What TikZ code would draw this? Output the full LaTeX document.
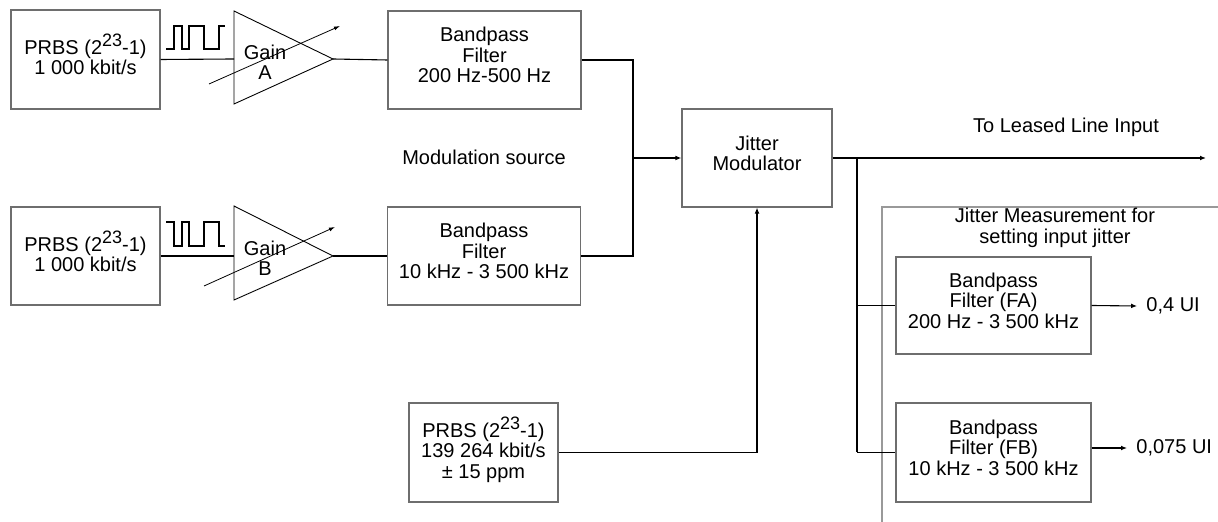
\documentclass[tikz,border=0pt]{standalone}
\usepackage{fontspec}
\setmainfont{Liberation Sans}
\usetikzlibrary{arrows.meta}
\definecolor{Edge}{HTML}{6E6E6E}
\definecolor{Ink}{HTML}{000000}
\newcommand{\pw}[1]{\raisebox{0.75ex}{\fontsize{9}{9}\selectfont #1}}

\begin{document}
\begin{tikzpicture}[
  x=0.5pt, y=-0.5pt,
  font=\fontsize{10}{10.2}\selectfont,
  block/.style={
    draw=Edge,
    line width=0.6pt,
    align=center,
    inner sep=0pt,
    text depth=5pt
  },
  amp/.style={
    draw=Ink,
    line width=0.45pt
  },
  wire/.style={
    draw=Ink,
    line width=0.55pt
  },
  bus/.style={
    draw=Ink,
    line width=1.1pt
  },
  frame/.style={
    draw=Edge!70,
    line width=0.6pt
  },
  tip/.style={
    -{Latex[length=3pt,width=2.4pt]}
  },
  knob/.style={
    draw=Ink,
    line width=0.4pt,
    -{Latex[length=3pt,width=2pt]}
  },
  outlbl/.style={
    anchor=west,
    inner xsep=4.5pt
  }
]

\useasboundingbox (0,0) rectangle (1218,522);

% sources and gain stages
\node[block, minimum width=74.5pt, minimum height=49.5pt] (srca) at (85.5,59.5)
  {PRBS (2\pw{23}-1)\\1 000 kbit/s};
\node[block, minimum width=74.5pt, minimum height=49pt] (srcb) at (85.5,256)
  {PRBS (2\pw{23}-1)\\1 000 kbit/s};

\coordinate (gaina-in) at (234,59);
\coordinate (gaina-out) at (333,59);
\draw[amp] (234,11) -- (gaina-out) -- (234,104) -- cycle;
\node[align=center] (gaina) at (265,62) {Gain\\A};
\draw[knob] (209,84) -- (340,26);

\coordinate (gainb-in) at (234,256);
\coordinate (gainb-out) at (333,256);
\draw[amp] (234,206) -- (gainb-out) -- (234,300) -- cycle;
\node[align=center] (gainb) at (265,258) {Gain\\B};
\draw[knob] (204,286) -- (335,227);

\draw[wire] (166,49) -- (174,49) -- (174,26) -- (182,26) -- (182,49) -- (189,49)
  -- (189,26) -- (204,26) -- (204,49) -- (219,49) -- (219,26) -- (225,26);
\draw[wire] (166,222) -- (174,222) -- (174,246) -- (182,246) -- (182,222) -- (189,222)
  -- (189,246) -- (204,246) -- (204,222) -- (219,222) -- (219,246) -- (225,246);

% bandpass filters of the modulation source
\node[block, minimum width=96.5pt, minimum height=49pt] (bpfa) at (484.5,60)
  {Bandpass\\Filter\\200 Hz-500 Hz};
\node[block, minimum width=96.5pt, minimum height=49pt] (bpfb) at (484,256)
  {Bandpass\\Filter\\10 kHz - 3 500 kHz};
\node (modsrc) at (484,157) {Modulation source};

\draw[wire] (srca.east) -- (gaina-in);
\draw[wire] (gaina-out) -- (bpfa.west);
\draw[wire] (srcb.east) -- (gainb-in);
\draw[wire] (gainb-out) -- (bpfb.west);

% jitter modulator
\node[block, minimum width=75pt, minimum height=49pt] (jm) at (757,158)
  {Jitter\\Modulator};
\node[block, minimum width=74.5pt, minimum height=49.5pt] (srcc) at (483.5,452.5)
  {PRBS (2\pw{23}-1)\\139 264 kbit/s\\± 15 ppm};

\coordinate (sum) at (633,158);
\draw[wire] (bpfa.east) -| (sum) |- (bpfb.east);
\draw[bus, tip] (sum) -- (jm.west);
\draw[wire, tip] (srcc.east) -| (jm.south);

\coordinate (tap) at (857,158);
\coordinate (out) at (1206,158);
\draw[bus, tip] (jm.east) -- (out);
\node (lease) at (1066,127) {To Leased Line Input};

% jitter measurement
\draw[frame] (882,522) -- (882,207) -- (1218,207);
\node[align=center] (meas) at (1055,228) {Jitter Measurement for\\setting input jitter};

\node[block, minimum width=97.5pt, minimum height=48.5pt] (fa) at (993.5,305.5)
  {Bandpass\\Filter (FA)\\200 Hz - 3 500 kHz};
\node[block, minimum width=97.5pt, minimum height=49.5pt] (fb) at (993.5,452.5)
  {Bandpass\\Filter (FB)\\10 kHz - 3 500 kHz};

\draw[bus] (tap) -- (tap |- fb.west);
\draw[wire] (tap |- fa.west) -- (fa.west);
\draw[wire] (tap |- fb.west) -- (fb.west);

\node[outlbl] (uia) at (1137,306) {0,4 UI};
\node[outlbl] (uib) at (1127,448) {0,075 UI};
\draw[wire, tip] (fa.east) -- (uia.west);
\draw[wire, tip] (fb.east |- uib.west) -- (uib.west);

\end{tikzpicture}
\end{document}
